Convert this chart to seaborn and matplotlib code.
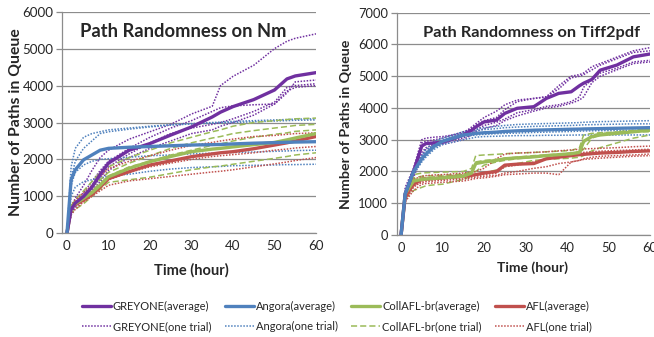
import numpy as np
import pandas as pd
import matplotlib
matplotlib.use("Agg")
import matplotlib.pyplot as plt
import seaborn as sns
from matplotlib.lines import Line2D

sns.set_theme(style="white")
plt.rcParams["font.family"] = ["Lato", "DejaVu Sans"]

TOOLS = ["GREYONE", "Angora", "CollAFL-br", "AFL"]
COLORS = {"GREYONE": "#7030A0", "Angora": "#4F81BD",
          "CollAFL-br": "#9BBB59", "AFL": "#C0504D"}

# ---------------- Nm ----------------
nm_hours = [0, 1, 2, 4, 6, 8, 10, 15, 20, 25, 30, 35, 37, 40, 45, 50, 53, 55, 60]

nm_greyone_avg = [0, 650, 820, 1000, 1250, 1600, 1900, 2250, 2430, 2660, 2880, 3150, 3280, 3430, 3620, 3880, 4180, 4260, 4350]
nm_greyone_trials = [
    [0, 700, 950, 1300, 1700, 2050, 2250, 2550, 2750, 2950, 3230, 3440, 4000, 4250, 4550, 5000, 5200, 5280, 5400],
    [0, 600, 800, 1100, 1400, 1700, 1950, 2300, 2600, 2850, 3050, 3300, 3400, 3450, 3480, 3500, 3800, 4100, 4150],
    [0, 550, 750, 950, 1200, 1500, 1800, 2150, 2450, 2700, 2850, 2950, 3000, 3100, 3300, 3550, 3950, 4000, 4050],
    [0, 500, 700, 900, 1150, 1400, 1700, 2050, 2300, 2500, 2700, 2800, 2900, 3000, 3200, 3500, 3850, 3950, 4000],
]
nm_angora_avg = [0, 1450, 1720, 1990, 2120, 2250, 2300, 2330, 2350, 2370, 2390, 2400, 2405, 2420, 2440, 2455, 2465, 2470, 2480]
nm_angora_trials = [
    [0, 1800, 2300, 2600, 2700, 2750, 2800, 2850, 2900, 2940, 2970, 3000, 3010, 3030, 3050, 3070, 3080, 3090, 3100],
    [0, 1500, 1950, 2300, 2500, 2700, 2750, 2820, 2880, 2930, 2960, 2980, 2990, 3000, 3020, 3040, 3050, 3060, 3070],
    [0, 1300, 1650, 1850, 1950, 2000, 2020, 2060, 2100, 2120, 2150, 2170, 2180, 2190, 2200, 2220, 2230, 2240, 2250],
    [0, 1000, 1250, 1400, 1450, 1500, 1550, 1600, 1680, 1740, 1780, 1800, 1810, 1830, 1840, 1850, 1860, 1860, 1870],
]
nm_collafl_avg = [0, 720, 800, 950, 1100, 1300, 1530, 1760, 1940, 2080, 2210, 2280, 2300, 2340, 2400, 2460, 2530, 2580, 2700]
nm_collafl_trials = [
    [0, 750, 900, 1150, 1400, 1650, 1800, 2050, 2250, 2450, 2600, 2750, 2800, 2900, 3000, 3050, 3080, 3100, 3120],
    [0, 700, 850, 1050, 1250, 1450, 1650, 1900, 2100, 2300, 2450, 2580, 2620, 2700, 2780, 2850, 2890, 2920, 2950],
    [0, 650, 780, 950, 1150, 1350, 1550, 1800, 1950, 2120, 2250, 2380, 2420, 2500, 2600, 2680, 2720, 2760, 2800],
    [0, 550, 650, 800, 1000, 1200, 1380, 1450, 1520, 1620, 1720, 1800, 1820, 1870, 1950, 2030, 2080, 2120, 2180],
]
nm_afl_avg = [0, 700, 780, 900, 1050, 1250, 1480, 1670, 1850, 1960, 2075, 2150, 2180, 2210, 2290, 2390, 2450, 2500, 2620]
nm_afl_trials = [
    [0, 750, 900, 1100, 1300, 1550, 1750, 1950, 2100, 2250, 2380, 2460, 2500, 2550, 2620, 2650, 2680, 2700, 2720],
    [0, 650, 750, 900, 1050, 1250, 1450, 1650, 1800, 1900, 2000, 2080, 2100, 2130, 2180, 2250, 2280, 2310, 2350],
    [0, 500, 650, 850, 1000, 1150, 1300, 1420, 1480, 1540, 1600, 1660, 1680, 1720, 1800, 1880, 1930, 1970, 2050],
]

# ---------------- Tiff2pdf ----------------
tf_hours = [0, 1, 3, 5, 6, 8, 10, 15, 17, 18, 20, 23, 25, 28, 32, 35, 38, 41, 43, 44, 46, 48, 52, 56, 60]

tf_greyone_avg = [0, 1300, 2000, 2800, 2880, 2900, 2920, 3150, 3300, 3400, 3560, 3620, 3830, 3990, 4040, 4300, 4460, 4510, 4700, 4780, 4900, 5190, 5350, 5610, 5700]
tf_greyone_trials = [
    [0, 1500, 2100, 3000, 3050, 3080, 3100, 3200, 3400, 3500, 3700, 3900, 4100, 4250, 4300, 4350, 4700, 5000, 5050, 5100, 5300, 5400, 5600, 5800, 5900],
    [0, 1400, 2000, 2900, 2950, 3000, 3050, 3250, 3350, 3450, 3600, 3700, 3950, 4200, 4300, 4350, 4600, 4950, 5000, 5050, 5200, 5350, 5550, 5750, 5800],
    [0, 1200, 1900, 2600, 2750, 2850, 2900, 3050, 3200, 3300, 3450, 3550, 3650, 3850, 3950, 4050, 4100, 4200, 4350, 4650, 4900, 5100, 5250, 5450, 5500],
    [0, 1100, 1800, 2500, 2700, 2800, 2850, 3000, 3150, 3250, 3350, 3450, 3600, 3750, 3900, 4000, 4050, 4150, 4250, 4350, 4800, 5000, 5200, 5400, 5450],
]
tf_angora_avg = [0, 1300, 2000, 2400, 2550, 2800, 2950, 3150, 3180, 3200, 3220, 3240, 3260, 3280, 3300, 3310, 3320, 3330, 3335, 3340, 3345, 3350, 3360, 3370, 3380]
tf_angora_trials = [
    [0, 1400, 2050, 2500, 2700, 2950, 3050, 3250, 3300, 3330, 3380, 3420, 3450, 3480, 3500, 3510, 3520, 3530, 3540, 3550, 3560, 3570, 3580, 3590, 3600],
    [0, 1350, 2000, 2450, 2600, 2900, 3000, 3200, 3250, 3280, 3320, 3350, 3380, 3400, 3420, 3430, 3440, 3450, 3460, 3470, 3475, 3480, 3490, 3500, 3500],
    [0, 1250, 1950, 2350, 2500, 2750, 2900, 3100, 3130, 3150, 3170, 3190, 3200, 3210, 3230, 3240, 3250, 3260, 3270, 3275, 3280, 3285, 3290, 3295, 3300],
    [0, 1200, 1900, 2300, 2450, 2700, 2850, 3000, 3050, 3080, 3100, 3110, 3120, 3130, 3130, 3140, 3140, 3145, 3150, 3150, 3150, 3150, 3150, 3150, 3150],
]
tf_collafl_avg = [0, 1300, 1700, 1750, 1760, 1780, 1800, 1850, 1950, 2250, 2300, 2350, 2400, 2430, 2460, 2500, 2530, 2560, 2600, 2950, 3100, 3150, 3200, 3250, 3300]
tf_collafl_trials = [
    [0, 1350, 1900, 1950, 1960, 1970, 1980, 2000, 2100, 2500, 2520, 2540, 2560, 2580, 2600, 2620, 2640, 2660, 2750, 3150, 3200, 3220, 3240, 3250, 3250],
    [0, 1150, 1400, 1500, 1550, 1580, 1600, 1750, 1850, 1900, 1950, 2050, 2150, 2250, 2350, 2380, 2400, 2420, 2450, 2500, 2650, 2750, 2900, 3050, 3150],
    [0, 1250, 1750, 1800, 1810, 1830, 1850, 1900, 1950, 2000, 2200, 2300, 2350, 2400, 2450, 2480, 2500, 2550, 2600, 2700, 3050, 3150, 3250, 3300, 3350],
    [0, 1300, 1800, 1850, 1860, 1870, 1880, 1920, 2000, 2300, 2350, 2380, 2420, 2450, 2500, 2520, 2550, 2580, 2620, 2900, 3150, 3200, 3230, 3260, 3280],
]
tf_afl_avg = [0, 1200, 1600, 1750, 1760, 1780, 1800, 1850, 1880, 1900, 1950, 2000, 2200, 2230, 2250, 2400, 2450, 2500, 2530, 2540, 2560, 2580, 2600, 2630, 2650]
tf_afl_trials = [
    [0, 1250, 1750, 1850, 1870, 1890, 1900, 1950, 1980, 2000, 2100, 2400, 2550, 2580, 2600, 2620, 2650, 2680, 2700, 2710, 2720, 2730, 2750, 2780, 2800],
    [0, 1100, 1500, 1700, 1720, 1740, 1760, 1800, 1850, 1870, 1900, 1950, 2150, 2200, 2300, 2400, 2500, 2550, 2580, 2600, 2620, 2640, 2660, 2680, 2700],
    [0, 1050, 1400, 1600, 1620, 1640, 1660, 1700, 1750, 1780, 1800, 1850, 1900, 1920, 1950, 1950, 1900, 2300, 2350, 2400, 2450, 2480, 2500, 2520, 2550],
    [0, 1100, 1550, 1650, 1680, 1700, 1720, 1760, 1800, 1820, 1850, 1880, 1950, 2000, 2100, 2150, 2250, 2300, 2350, 2380, 2400, 2420, 2450, 2480, 2500],
]

panels = [
    dict(title="Path Randomness on Nm", hours=nm_hours, ymax=6000, xmin=-1.2,
         avg={"GREYONE": nm_greyone_avg, "Angora": nm_angora_avg,
              "CollAFL-br": nm_collafl_avg, "AFL": nm_afl_avg},
         trials={"GREYONE": nm_greyone_trials, "Angora": nm_angora_trials,
                 "CollAFL-br": nm_collafl_trials, "AFL": nm_afl_trials},
         rect=[62 / 654, 1 - 233.3 / 337, 254 / 654, 221.6 / 337],
         title_xy=(0.476, 0.91), title_size=13.2,
         ylabel_size=11.3, ylabel_x=-0.155,
         xlabel_size=10.5, xlabel_xy=(0.508, -0.135), tick_size=9.6),
    dict(title="Path Randomness on Tiff2pdf", hours=tf_hours, ymax=7000, xmin=-1.05,
         avg={"GREYONE": tf_greyone_avg, "Angora": tf_angora_avg,
              "CollAFL-br": tf_collafl_avg, "AFL": tf_afl_avg},
         trials={"GREYONE": tf_greyone_trials, "Angora": tf_angora_trials,
                 "CollAFL-br": tf_collafl_trials, "AFL": tf_afl_trials},
         rect=[396.7 / 654, 1 - 235 / 337, 253.3 / 654, 222.3 / 337],
         title_xy=(0.534, 0.909), title_size=11.8,
         ylabel_size=10.3, ylabel_x=-0.175,
         xlabel_size=10.0, xlabel_xy=(0.538, -0.12), tick_size=9.3),
]

fig = plt.figure(figsize=(6.54, 3.37), dpi=100)
GRID = "#8C8C8C"

for p in panels:
    ax = fig.add_axes(p["rect"])
    hours = p["hours"]
    # individual trials underneath
    for tool in TOOLS:
        for vals in p["trials"][tool]:
            df = pd.DataFrame({"hour": hours, "paths": vals})
            ls = (0, (4, 2)) if tool == "CollAFL-br" else (0, (1, 1))
            sns.lineplot(data=df, x="hour", y="paths", ax=ax, color=COLORS[tool],
                         lw=1.1, linestyle=ls, estimator=None, sort=False)
    # averages on top
    for tool in ["AFL", "CollAFL-br", "GREYONE", "Angora"]:
        df = pd.DataFrame({"hour": hours, "paths": p["avg"][tool]})
        sns.lineplot(data=df, x="hour", y="paths", ax=ax, color=COLORS[tool],
                     lw=2.4, estimator=None, sort=False, solid_joinstyle="round")

    ax.set_xlim(p["xmin"], 60)
    ax.set_ylim(0, p["ymax"])
    ax.set_xticks(range(0, 61, 10))
    ax.set_yticks(range(0, p["ymax"] + 1, 1000))
    ax.yaxis.grid(True, color=GRID, lw=0.9)
    ax.set_axisbelow(True)
    for s in ["top", "right"]:
        ax.spines[s].set_visible(False)
    for s in ["left", "bottom"]:
        ax.spines[s].set_color(GRID)
        ax.spines[s].set_linewidth(0.9)
    ax.tick_params(axis="y", length=4, width=0.9, color=GRID, pad=2,
                   labelsize=p["tick_size"], left=True)
    ax.tick_params(axis="x", length=0, pad=5, labelsize=p["tick_size"])
    ax.set_xlabel("Time (hour)", fontsize=p["xlabel_size"], fontweight="bold")
    ax.set_ylabel("Number of Paths in Queue", fontsize=p["ylabel_size"],
                  fontweight="bold")
    ax.xaxis.set_label_coords(*p["xlabel_xy"])
    ax.yaxis.set_label_coords(p["ylabel_x"], 0.5)
    ax.text(p["title_xy"][0], p["title_xy"][1], p["title"], transform=ax.transAxes,
            ha="center", va="center", fontsize=p["title_size"], fontweight="bold")

handles, labels = [], []
for tool in TOOLS:
    handles.append(Line2D([], [], color=COLORS[tool], lw=2.4))
    labels.append(f"{tool}(average)")
    ls = (0, (4, 2)) if tool == "CollAFL-br" else (0, (1, 1))
    handles.append(Line2D([], [], color=COLORS[tool], lw=1.1, linestyle=ls))
    labels.append(f"{tool}(one trial)")

fig.legend(handles, labels, ncol=4, loc="center",
           bbox_to_anchor=(337 / 654, 1 - 316.5 / 337),
           frameon=False, fontsize=8.0, handlelength=2.6, handletextpad=0.2,
           columnspacing=1.2, labelspacing=0.85, borderpad=0)

fig.savefig("out.png", dpi=100)
